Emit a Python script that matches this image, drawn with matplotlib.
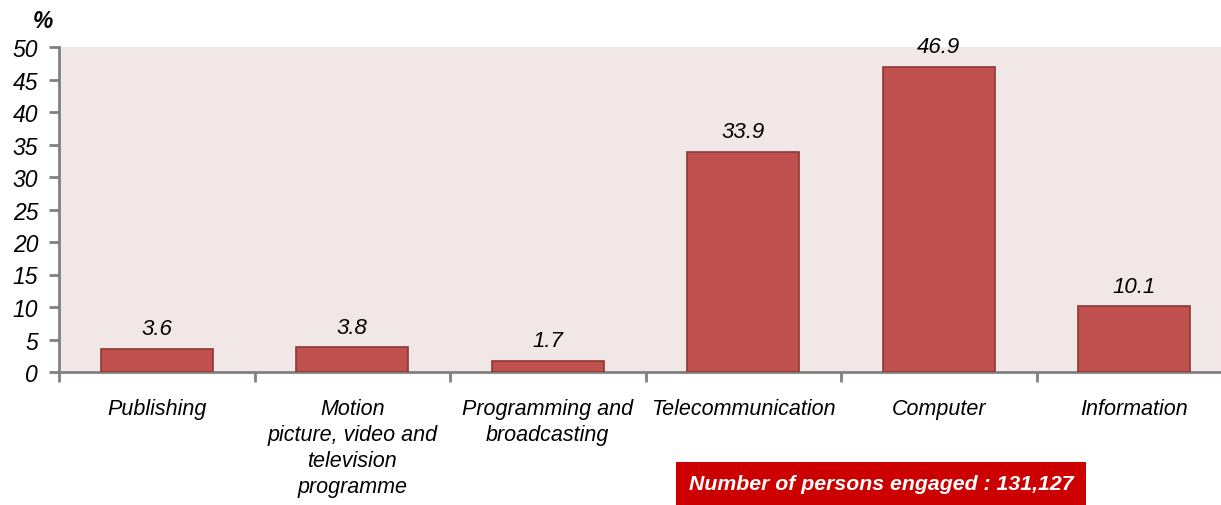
import matplotlib.pyplot as plt
import numpy as np

plt.rcParams['font.family'] = ['Liberation Sans', 'DejaVu Sans']

categories = ["Publishing", "Motion\npicture, video and\ntelevision\nprogramme",
              "Programming and\nbroadcasting", "Telecommunication", "Computer", "Information"]
values = [3.6, 3.8, 1.7, 33.9, 46.9, 10.1]
yticks = [0, 5, 10, 15, 20, 25, 30, 35, 40, 45, 50]
note = "Number of persons engaged : 131,127"

W, H = 1221, 506
fig = plt.figure(figsize=(W / 100, H / 100), dpi=100)
ax = fig.add_axes([59 / W, (H - 373) / H, 1173 / W, 325 / H])
ax.set_facecolor('#F2E7E7')

x = np.arange(len(values))
ax.bar(x, values, width=0.575, color='#C0504D', edgecolor='#8C3836', linewidth=1.2, zorder=3)
for xi, v in zip(x, values):
    ax.annotate(f"{v:.1f}", (xi, v), xytext=(0, 7), textcoords='offset points',
                ha='center', va='bottom', fontsize=16, style='italic')

ax.set_xlim(-0.5, len(values) - 0.5)
ax.set_ylim(0, 50)
ax.set_yticks(yticks)
ax.set_yticklabels([str(t) for t in yticks], fontsize=16.5, style='italic')
ax.set_xticks(np.arange(len(values) + 1) - 0.5)
ax.set_xticklabels([])
ax.set_xticks(x, minor=True)
ax.set_xticklabels(categories, minor=True, fontsize=15.5, style='italic', linespacing=1.3)
ax.tick_params(axis='x', which='minor', length=0, pad=19)
ax.tick_params(axis='x', which='major', length=7, width=2, color='#808080', direction='out')
ax.tick_params(axis='y', length=7, width=2, color='#808080', direction='out', pad=8)
for lbl in ax.get_xticklabels(minor=True):
    lbl.set_verticalalignment('top')

for s in ['top', 'right']:
    ax.spines[s].set_visible(False)
for s in ['left', 'bottom']:
    ax.spines[s].set_color('#808080')
    ax.spines[s].set_linewidth(2)

fig.text(43 / W, 1 - 22 / H, "%", ha='center', va='center', fontsize=16.5, style='italic', weight='bold')
fig.text(881 / W, 1 - 485 / H, note, ha='center', va='center', fontsize=15.3, style='italic',
         weight='bold', color='white',
         bbox=dict(boxstyle='square,pad=0.58', facecolor='#CC0000', edgecolor='none'))

fig.savefig("out.png", dpi=100)
